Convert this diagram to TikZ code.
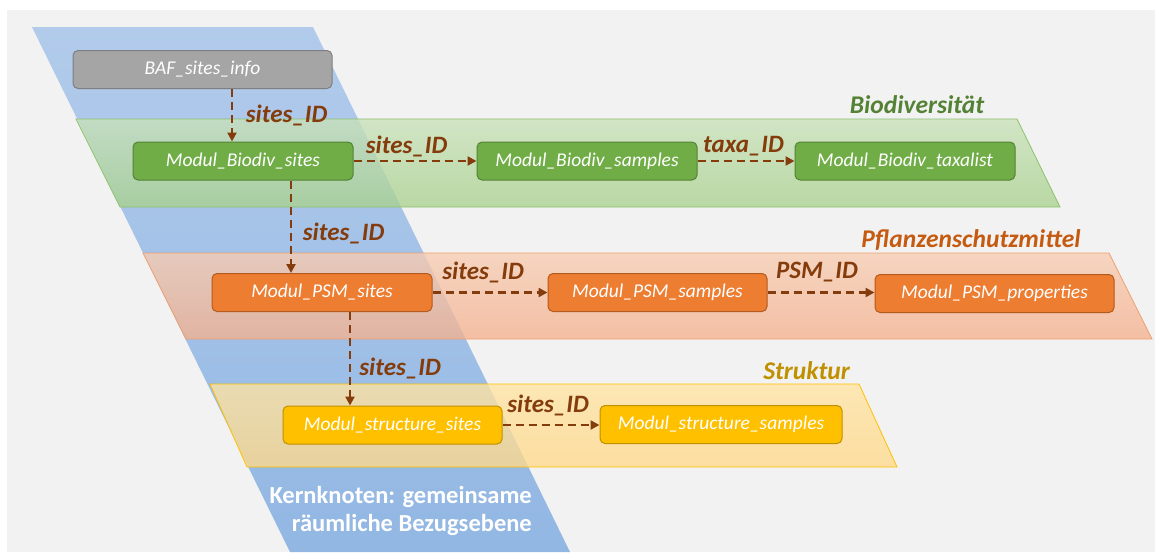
\documentclass[tikz,border=0pt]{standalone}
\usepackage{fontspec}
\setmainfont{Carlito}
\usetikzlibrary{arrows.meta}

\definecolor{panel}{HTML}{F2F2F2}
\definecolor{coreTop}{HTML}{B2CBEB}
\definecolor{coreBot}{HTML}{92B7E3}
\definecolor{bioTop}{HTML}{C9E2BA}
\definecolor{bioBot}{HTML}{A9D18E}
\definecolor{bioLine}{HTML}{8DC16D}
\definecolor{bioFill}{HTML}{70AD47}
\definecolor{bioEdge}{HTML}{548235}
\definecolor{psmTop}{HTML}{F8CDB2}
\definecolor{psmBot}{HTML}{F4B18F}
\definecolor{psmLine}{HTML}{F0A070}
\definecolor{psmFill}{HTML}{ED7D31}
\definecolor{psmEdge}{HTML}{B35A1E}
\definecolor{psmText}{HTML}{C55A11}
\definecolor{strTop}{HTML}{FFE4A3}
\definecolor{strBot}{HTML}{FFD98A}
\definecolor{strLine}{HTML}{FFC000}
\definecolor{strFill}{HTML}{FFC000}
\definecolor{strEdge}{HTML}{BF9000}
\definecolor{strText}{HTML}{BF9000}
\definecolor{infoFill}{HTML}{A5A5A5}
\definecolor{infoEdge}{HTML}{7F7F7F}
\definecolor{keyBrown}{HTML}{843C0C}

\begin{document}
\begin{tikzpicture}[x=1pt,y=-1pt,
  modbox/.style={rounded corners=5pt, minimum height=38pt, inner sep=0pt,
    text=white, line width=1pt, font=\fontsize{19.5}{22}\selectfont\itshape},
  biobox/.style={modbox, fill=bioFill, draw=bioEdge},
  psmbox/.style={modbox, fill=psmFill, draw=psmEdge},
  strbox/.style={modbox, fill=strFill, draw=strEdge},
  infobox/.style={modbox, fill=infoFill, draw=infoEdge},
  keylink/.style={draw=keyBrown, line width=2.4pt, dash pattern=on 8pt off 5pt,
    -{Triangle[length=9pt,width=9pt]}},
  keylabel/.style={text=keyBrown, inner sep=0pt,
    font=\fontsize{25}{28}\selectfont\bfseries\itshape},
  bandlabel/.style={inner sep=0pt, font=\fontsize{25.5}{28}\selectfont\bfseries\itshape},
  band/.style={fill opacity=0.78, draw opacity=0.9, line width=0.8pt}
]
\useasboundingbox (0,0) rectangle (1155,552);
\fill[panel] (7,10) rectangle (1155,552);

% core strip: shared spatial reference layer
\shade[top color=coreTop, bottom color=coreBot]
  (32,27) -- (313,27) -- (570,552) -- (290,552) -- cycle;

% thematic layers
\shade[band, top color=bioTop, bottom color=bioBot]
  (76,119) -- (1017,119) -- (1060,207) -- (120,207) -- cycle;
\draw[bioLine, line width=0.8pt]
  (76,119) -- (1017,119) -- (1060,207) -- (120,207) -- cycle;
\shade[band, top color=psmTop, bottom color=psmBot]
  (143,253) -- (1109,253) -- (1152,339) -- (186,339) -- cycle;
\draw[psmLine, line width=0.8pt]
  (143,253) -- (1109,253) -- (1152,339) -- (186,339) -- cycle;
\shade[band, top color=strTop, bottom color=strBot]
  (210,384) -- (859,384) -- (897,467) -- (247,467) -- cycle;
\draw[strLine, line width=0.8pt]
  (210,384) -- (859,384) -- (897,467) -- (247,467) -- cycle;

% layer titles
\node[bandlabel, text=bioEdge] (tbio) at (917,105) {Biodiversität};
\node[bandlabel, text=psmText] (tpsm) at (971,240) {Pflanzenschutzmittel};
\node[bandlabel, text=strText] (tstr) at (806.5,371) {Struktur};

% tables
\node[infobox, minimum width=259pt] (baf) at (202.5,69.5) {BAF\_sites\_info};
\node[biobox, minimum width=220pt] (bs)  at (243,161) {Modul\_Biodiv\_sites};
\node[biobox, minimum width=220pt] (bsa) at (587,161) {Modul\_Biodiv\_samples};
\node[biobox, minimum width=220pt] (bt)  at (905,161) {Modul\_Biodiv\_taxalist};
\node[psmbox, minimum width=220pt] (ps)  at (322,292.5) {Modul\_PSM\_sites};
\node[psmbox, minimum width=219pt] (psa) at (657.5,292.5) {Modul\_PSM\_samples};
\node[psmbox, minimum width=239pt] (pp)  at (994.5,293.5) {Modul\_PSM\_properties};
\node[strbox, minimum width=219pt] (ss)  at (392.5,425) {Modul\_structure\_sites};
\node[strbox, minimum width=242pt] (ssa) at (721,424.5) {Modul\_structure\_samples};

% key relations
\draw[keylink] ([xshift=29.5pt]baf.south) -- ([xshift=29.5pt]baf.south |- bs.north);
\draw[keylink] (bs.east) -- (bsa.west);
\draw[keylink] (bsa.east) -- (bt.west);
\draw[keylink] ([xshift=48pt]bs.south) -- ([xshift=48pt]bs.south |- ps.north);
\draw[keylink] (ps.east) -- (psa.west);
\draw[keylink] (psa.east) -- (psa.east -| pp.west);
\draw[keylink] ([xshift=28pt]ps.south) -- ([xshift=28pt]ps.south |- ss.north);
\draw[keylink] (ss.east) -- (ss.east -| ssa.west);

% key names
\node[keylabel] (k1) at (286.5,115) {sites\_ID};
\node[keylabel] (k2) at (406.5,146) {sites\_ID};
\node[keylabel] (k3) at (743.5,146) {taxa\_ID};
\node[keylabel] (k4) at (343.5,233) {sites\_ID};
\node[keylabel] (k5) at (483,272) {sites\_ID};
\node[keylabel] (k6) at (817,272) {PSM\_ID};
\node[keylabel] (k7) at (400,368) {sites\_ID};
\node[keylabel] (k8) at (548,405) {sites\_ID};

% caption of the core strip
\node[anchor=east, align=right, text=white, inner sep=0pt,
  font=\fontsize{24.5}{28}\selectfont\bfseries] (core) at (532,511)
  {Kernknoten: gemeinsame\\räumliche Bezugsebene};
\end{tikzpicture}
\end{document}
